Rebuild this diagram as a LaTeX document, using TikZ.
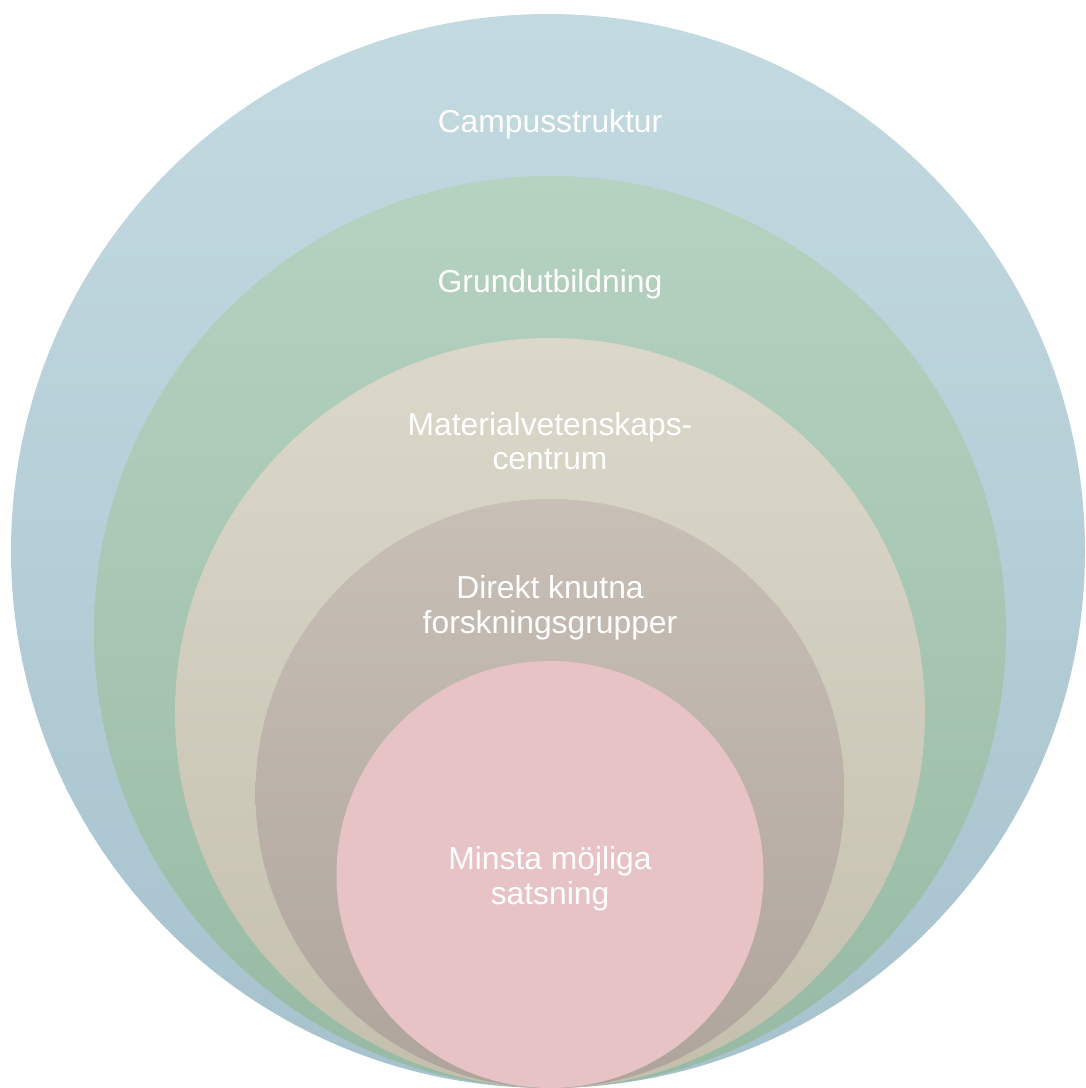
\documentclass[tikz,border=0pt]{standalone}
\usepackage{fontspec}
\setmainfont{Liberation Sans}
\definecolor{blueT}{HTML}{C4DAE1}
\definecolor{blueB}{HTML}{A6C2CD}
\definecolor{greenT}{HTML}{B6D2C1}
\definecolor{greenB}{HTML}{97BAA4}
\definecolor{beigeT}{HTML}{DBD8CB}
\definecolor{beigeB}{HTML}{C4BFAD}
\definecolor{taupeT}{HTML}{C8BFB7}
\definecolor{taupeB}{HTML}{AEA49B}
\definecolor{pinkF}{HTML}{E7C3C6}
\begin{document}
\begin{tikzpicture}[x=1pt,y=-1pt,
  ring/.style={circle,inner sep=0pt,outer sep=0pt,draw=none},
  lbl/.style={text=white,align=center,font=\fontsize{31.8}{34.5}\selectfont,inner sep=0pt}]
\useasboundingbox (0,0) rectangle (1086,1088);
\begin{scope}
\clip (0,0) rectangle (1086,1088);
\node[ring,minimum size=1074pt,top color=blueT,bottom color=blueB] (c1) at (548,551) {};
\node[ring,minimum size=912pt,top color=greenT,bottom color=greenB] (c2) at (550,632) {};
\node[ring,minimum size=750pt,top color=beigeT,bottom color=beigeB] (c3) at (550,713) {};
\node[ring,minimum size=589pt,top color=taupeT,bottom color=taupeB] (c4) at (550,793.5) {};
\node[ring,minimum size=427pt,fill=pinkF] (c5) at (550,874.5) {};
\end{scope}
\node[lbl] (t1) at (550,124) {Campusstruktur};
\node[lbl] (t2) at (550,284) {Grundutbildning};
\node[lbl] (t3) at (550,441) {Materialvetenskaps-\\centrum};
\node[lbl] (t4) at (550,608) {Direkt knutna\\forskningsgrupper};
\node[lbl] (t5) at (550,879) {Minsta möjliga\\satsning};
\end{tikzpicture}
\end{document}
